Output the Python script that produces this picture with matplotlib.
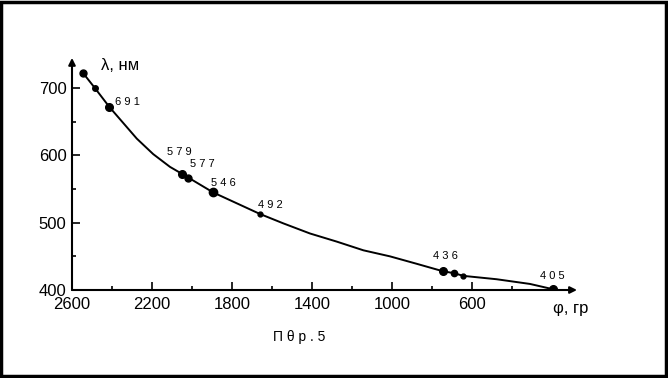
import matplotlib.pyplot as plt
from matplotlib.patches import Rectangle

# measured points (phi, lambda)
phi = [2546, 2485, 2413, 2052, 2018, 1894, 1660, 747, 690, 643, 193]
lam = [723, 700, 672, 573, 567, 545, 513, 428, 425, 421, 401]
dot_size = [5, 4, 5.5, 5.5, 5, 6, 3.5, 5.5, 4.5, 3.5, 5.5]

# curve
curve_phi = [2546, 2485, 2413, 2343, 2276, 2194, 2110, 2052, 2018, 1894, 1777,
             1660, 1543, 1410, 1277, 1143, 1010, 877, 747, 690, 643, 477, 310, 193]
curve_lam = [723, 700, 672, 648, 625, 602, 583, 573, 567, 545, 529,
             513, 499, 484, 472, 459, 450, 439, 428, 425, 421, 416, 409, 401]

labels = ['6 9 1', '5 7 9', '5 7 7', '5 4 6', '4 9 2', '4 3 6', '4 0 5']
label_phi = [2385, 2127, 2010, 1907, 1668, 797, 260]
label_lam = [679, 605, 588, 559, 526, 450, 421]

xticks = [2600, 2200, 1800, 1400, 1000, 600]
xminor = [2400, 2000, 1600, 1200, 800, 400]
yticks = [400, 500, 600, 700]
yminor = [450, 550, 650]

plt.rcParams['font.family'] = ['Liberation Sans', 'DejaVu Sans']

fig = plt.figure(figsize=(6.68, 3.78), dpi=100)
fig.patches.append(Rectangle((0.002, 0.004), 0.995, 0.99, transform=fig.transFigure,
                             fill=False, edgecolor='black', linewidth=2.5))

ax = fig.add_axes([72 / 668, 1 - 290 / 378, 500 / 668, 222 / 378])
ax.set_xlim(2600, 100)
ax.set_ylim(400, 730)

ax.plot(curve_phi, curve_lam, color='black', linewidth=1.4)
for x, y, s in zip(phi, lam, dot_size):
    ax.plot(x, y, 'o', color='black', markersize=s)

for t, x, y in zip(labels, label_phi, label_lam):
    ax.text(x, y, t, fontsize=8, ha='left', va='center')

for side in ['top', 'right', 'left', 'bottom']:
    ax.spines[side].set_visible(False)

# axes with arrows
ax.annotate('', xy=(2600, 745), xytext=(2600, 400),
            arrowprops=dict(arrowstyle='-|>', color='black', lw=1.5,
                            mutation_scale=10, shrinkA=0, shrinkB=0),
            annotation_clip=False)
ax.annotate('', xy=(75, 400), xytext=(2600, 400),
            arrowprops=dict(arrowstyle='-|>', color='black', lw=1.5,
                            mutation_scale=10, shrinkA=0, shrinkB=0),
            annotation_clip=False)

ax.set_xticks(xticks)
ax.set_xticks(xminor, minor=True)
ax.set_yticks(yticks)
ax.set_yticks(yminor, minor=True)
ax.tick_params(axis='both', which='major', direction='in', length=6, width=1.2,
               labelsize=12, pad=4)
ax.tick_params(axis='x', which='major', pad=5)
ax.tick_params(axis='both', which='minor', direction='in', length=3, width=1.2)

ax.text(2455, 733, 'λ, нм', fontsize=12, ha='left', va='center')
ax.text(195, 384, 'φ, гр', fontsize=12, ha='left', va='top')

fig.text(273 / 668, 1 - 337 / 378, 'П θ р . 5', fontsize=10,
         ha='left', va='center')

fig.savefig('out.png', dpi=100)
